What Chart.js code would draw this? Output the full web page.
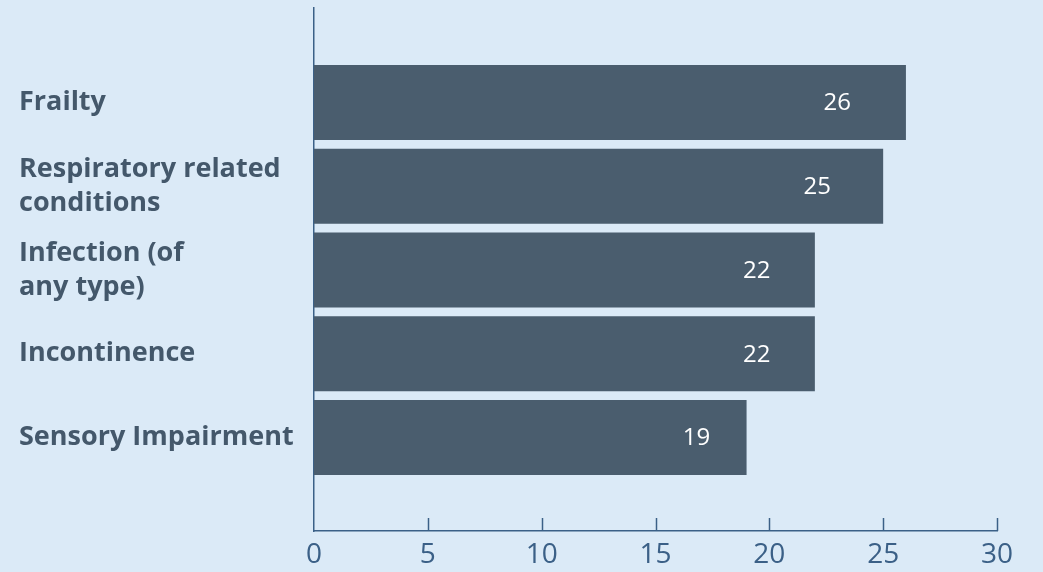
<!DOCTYPE html>
<html>
<head>
<meta charset="utf-8">
<script src="https://cdn.jsdelivr.net/npm/chart.js@4.4.0/dist/chart.umd.min.js"></script>
<style>
  html, body { margin: 0; padding: 0; background: #dbeaf7; }
  #wrap { width: 1043px; height: 572px; position: relative; }
</style>
</head>
<body>
<div id="wrap"><canvas id="chart"></canvas></div>
<script>
let categories = ['Frailty', ['Respiratory related', 'conditions'], ['Infection (of', 'any type)'], 'Incontinence', 'Sensory Impairment'];
let values = [26, 25, 22, 22, 19];
let xTicks = [0, 5, 10, 15, 20, 25, 30];

let axisColor = '#3b6087';
let barColor = '#4a5d6e';

// bars sit on a linear index scale so the top/bottom gaps can match
let points = values.map(function (v, i) { return { x: v, y: i }; });

// upward tick marks on the x axis and the white values inside the bars
let extras = {
  id: 'extras',
  afterDraw: function (chart) {
    let ctx = chart.ctx;
    let xs = chart.scales.x;
    let bottom = chart.chartArea.bottom;
    ctx.save();
    ctx.strokeStyle = axisColor;
    ctx.lineWidth = 1.5;
    xTicks.forEach(function (t) {
      if (t == 0) return;
      let px = Math.round(xs.getPixelForValue(t)) + 0.5;
      ctx.beginPath();
      ctx.moveTo(px, bottom);
      ctx.lineTo(px, bottom - 13);
      ctx.stroke();
    });
    ctx.fillStyle = '#ffffff';
    ctx.font = '24px "Open Sans"';
    ctx.textAlign = 'center';
    ctx.textBaseline = 'middle';
    let meta = chart.getDatasetMeta(0);
    meta.data.forEach(function (bar, i) {
      let lx = bar.base + (bar.x - bar.base) * 0.884;
      ctx.fillText(String(values[i]), lx, bar.y + 1);
    });
    ctx.restore();
  }
};

let ctx = document.getElementById('chart').getContext('2d');
let chart = new Chart(ctx, {
  type: 'bar',
  data: {
    datasets: [{
      data: points,
      backgroundColor: barColor,
      borderWidth: 0,
      categoryPercentage: 1,
      barPercentage: 0.896
    }]
  },
  options: {
    indexAxis: 'y',
    responsive: true,
    maintainAspectRatio: false,
    animation: false,
    layout: { padding: { left: 19, top: 8, right: 46, bottom: 0 } },
    plugins: { legend: { display: false }, tooltip: { enabled: false } },
    scales: {
      x: {
        type: 'linear',
        min: 0,
        max: 30,
        afterBuildTicks: function (scale) {
          scale.ticks = xTicks.map(function (v) { return { value: v }; });
        },
        afterFit: function (scale) { scale.height = 41; },
        grid: { display: false, drawTicks: false },
        border: { display: true, color: axisColor, width: 1.5 },
        ticks: {
          color: axisColor,
          padding: 7,
          maxRotation: 0,
          font: { family: '"Open Sans"', size: 28 }
        }
      },
      y: {
        type: 'linear',
        reverse: true,
        offset: false,
        min: -1.128,
        max: 5.117,
        afterBuildTicks: function (scale) {
          scale.ticks = categories.map(function (c, i) { return { value: i }; });
        },
        afterFit: function (scale) {
          scale.width = 295;
          scale.paddingTop = 0;
          scale.paddingBottom = 0;
        },
        grid: { display: false, drawTicks: false, offset: false },
        border: { display: true, color: axisColor, width: 1.5 },
        ticks: {
          color: '#44586b',
          crossAlign: 'far',
          padding: 0,
          callback: function (v) { return categories[v]; },
          font: { family: '"Open Sans"', size: 27, weight: 'bold', lineHeight: 1.26 }
        }
      }
    }
  },
  plugins: [extras]
});
</script>
</body>
</html>
